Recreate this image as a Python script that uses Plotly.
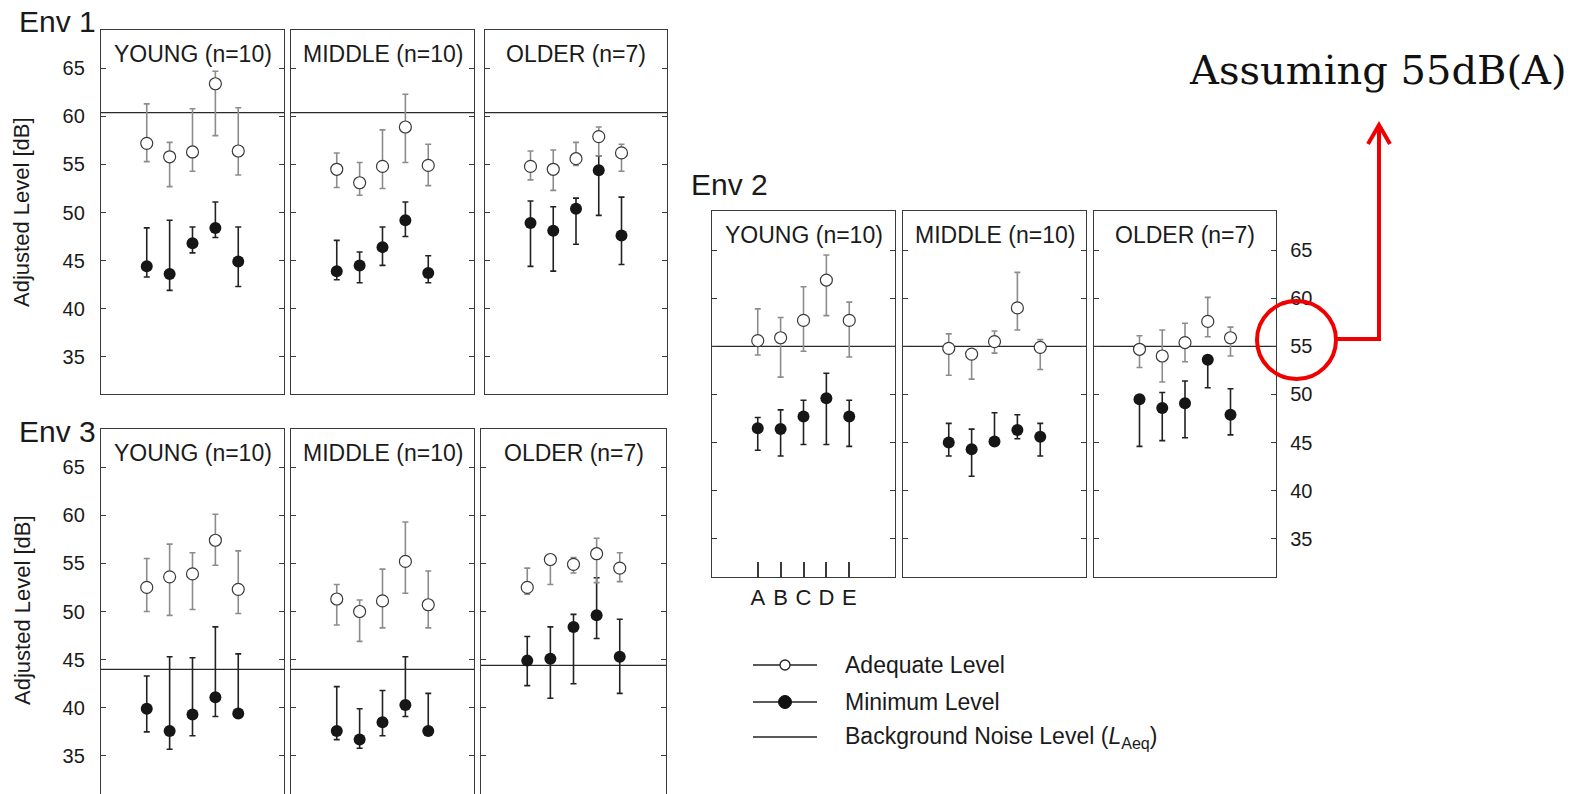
import plotly.graph_objects as go

# ---------------- data ----------------
letters = ["A", "B", "C", "D", "E"]
groups = ["YOUNG (n=10)", "MIDDLE (n=10)", "OLDER (n=7)"]
env_names = ["Env 1", "Env 2", "Env 3"]
y_ticks = [35, 40, 45, 50, 55, 60, 65]

# rows: YOUNG, MIDDLE, OLDER ; columns: A..E
env1_adq = [[57.2, 55.8, 56.3, 63.4, 56.4], [54.5, 53.1, 54.8, 58.9, 54.9], [54.8, 54.5, 55.6, 57.9, 56.2]]
env1_adq_hi = [[61.3, 57.3, 60.8, 64.7, 60.9], [56.2, 55.2, 58.6, 62.3, 57.1], [56.4, 56.5, 57.3, 58.9, 57.1]]
env1_adq_lo = [[55.3, 52.7, 54.3, 58.0, 53.9], [52.6, 51.8, 52.5, 55.2, 52.8], [53.4, 52.3, 54.9, 55.9, 54.3]]
env1_min = [[44.4, 43.6, 46.8, 48.4, 44.9], [43.9, 44.5, 46.4, 49.2, 43.7], [48.9, 48.1, 50.4, 54.4, 47.6]]
env1_min_hi = [[48.4, 49.2, 48.5, 51.1, 48.5], [47.1, 45.9, 48.5, 51.1, 45.5], [51.2, 50.6, 51.5, 55.9, 51.6]]
env1_min_lo = [[43.3, 41.9, 45.8, 47.4, 42.3], [43.0, 42.7, 44.5, 47.5, 42.7], [44.4, 43.9, 46.7, 49.7, 44.6]]
env1_bg = [60.4, 60.4, 60.4]

env2_adq = [[55.6, 55.9, 57.7, 61.9, 57.7], [54.8, 54.2, 55.5, 59.0, 54.9], [54.7, 54.0, 55.4, 57.6, 55.9]]
env2_adq_hi = [[58.9, 58.0, 61.2, 64.5, 59.6], [56.3, 54.6, 56.6, 62.7, 55.7], [56.1, 56.7, 57.4, 60.1, 57.0]]
env2_adq_lo = [[54.1, 51.8, 54.5, 58.2, 53.9], [52.0, 51.6, 54.3, 56.7, 52.6], [52.8, 51.3, 53.4, 56.0, 54.0]]
env2_min = [[46.5, 46.4, 47.7, 49.6, 47.7], [45.0, 44.3, 45.1, 46.3, 45.6], [49.5, 48.6, 49.1, 53.6, 47.9]]
env2_min_hi = [[47.6, 48.4, 49.4, 52.2, 49.4], [47.0, 46.4, 48.1, 47.9, 47.0], [49.5, 50.2, 51.4, 53.6, 50.6]]
env2_min_lo = [[44.2, 43.6, 44.8, 44.8, 44.6], [43.6, 41.5, 45.0, 45.4, 43.6], [44.6, 45.2, 45.5, 50.7, 45.8]]
env2_bg = [55.0, 55.0, 55.0]

env3_adq = [[52.5, 53.6, 53.9, 57.4, 52.3], [51.3, 50.0, 51.1, 55.2, 50.7], [52.5, 55.4, 54.9, 56.0, 54.5]]
env3_adq_hi = [[55.5, 57.0, 56.1, 60.1, 56.3], [52.8, 51.2, 54.4, 59.3, 54.2], [54.5, 55.9, 55.6, 57.6, 56.1]]
env3_adq_lo = [[50.0, 49.6, 50.2, 54.8, 49.8], [48.6, 46.9, 48.3, 51.9, 48.3], [51.8, 52.8, 54.0, 53.0, 53.1]]
env3_min = [[39.9, 37.6, 39.3, 41.1, 39.4], [37.6, 36.7, 38.5, 40.3, 37.6], [44.9, 45.1, 48.4, 49.6, 45.3]]
env3_min_hi = [[43.3, 45.3, 45.2, 48.4, 45.6], [42.2, 39.9, 41.8, 45.3, 41.5], [47.4, 48.4, 49.7, 53.5, 49.2]]
env3_min_lo = [[37.5, 35.7, 37.1, 39.1, 39.1], [36.7, 35.8, 37.1, 39.1, 37.4], [42.3, 41.0, 42.5, 47.2, 41.5]]
env3_bg = [44.0, 44.0, 44.4]

annotation_text = "Assuming 55dB(A)"
legend_labels = ["Adequate Level", "Minimum Level", "Background Noise Level (<i>L</i><sub>Aeq</sub>)"]

# ---------------- layout geometry (pixels) ----------------
W, H = 1583, 794
def px(x):
    return x / W
def py(y):
    return 1 - y / H

FONT = "Liberation Sans, Arial, Helvetica, sans-serif"
TXT = "#1a1a1a"
AX = "#3a3a3a"

envs = [
    dict(adq=env1_adq, adq_hi=env1_adq_hi, adq_lo=env1_adq_lo, mn=env1_min, mn_hi=env1_min_hi, mn_lo=env1_min_lo, bg=env1_bg,
         ytop=30, ybot=394, xs=[(101, 284), (291, 474), (485, 667)], yr=[31.12, 68.99], label_xy=(19, 21), ylab_y=212),
    dict(adq=env2_adq, adq_hi=env2_adq_hi, adq_lo=env2_adq_lo, mn=env2_min, mn_hi=env2_min_hi, mn_lo=env2_min_lo, bg=env2_bg,
         ytop=211, ybot=577, xs=[(712, 895), (903, 1086), (1094, 1276)], yr=[31.02, 69.08], label_xy=(691, 185), ylab_y=None),
    dict(adq=env3_adq, adq_hi=env3_adq_hi, adq_lo=env3_adq_lo, mn=env3_min, mn_hi=env3_min_hi, mn_lo=env3_min_lo, bg=env3_bg,
         ytop=429, ybot=794, xs=[(101, 284), (291, 474), (481, 666)], yr=[31.05, 68.95], label_xy=(19, 431), ylab_y=610),
]

fig = go.Figure()
layout = dict(
    width=W, height=H, margin=dict(l=0, r=0, t=0, b=0),
    paper_bgcolor="white", plot_bgcolor="white", showlegend=False,
    font=dict(family=FONT, color=TXT),
)
annotations = []
shapes = []

for ei, e in enumerate(envs):
    for gi in range(3):
        k = ei * 3 + gi + 1
        xa = "x" if k == 1 else f"x{k}"
        ya = "y" if k == 1 else f"y{k}"
        xkey = "xaxis" if k == 1 else f"xaxis{k}"
        ykey = "yaxis" if k == 1 else f"yaxis{k}"
        x0, x1 = e["xs"][gi]

        adq = e["adq"][gi]; hi = e["adq_hi"][gi]; lo = e["adq_lo"][gi]
        mn = e["mn"][gi]; mhi = e["mn_hi"][gi]; mlo = e["mn_lo"][gi]

        fig.add_trace(go.Scatter(
            x=letters, y=mn, mode="markers", xaxis=xa, yaxis=ya,
            marker=dict(symbol="circle", size=12, color="#161616", line=dict(width=0)),
            error_y=dict(type="data", symmetric=False,
                         array=[h - m for h, m in zip(mhi, mn)],
                         arrayminus=[m - l for m, l in zip(mn, mlo)],
                         color="#222222", thickness=1.6, width=3),
            name="Minimum Level"))
        fig.add_trace(go.Scatter(
            x=letters, y=adq, mode="markers", xaxis=xa, yaxis=ya,
            marker=dict(symbol="circle", size=12, color="white", line=dict(width=1.2, color="#3a3a3a")),
            error_y=dict(type="data", symmetric=False,
                         array=[h - m for h, m in zip(hi, adq)],
                         arrayminus=[m - l for m, l in zip(adq, lo)],
                         color="#8c8c8c", thickness=1.6, width=3),
            name="Adequate Level"))

        is_env2_young = (ei == 1 and gi == 0)
        xaxis = dict(domain=[px(x0), px(x1)], anchor=ya, type="category",
                     categoryorder="array", categoryarray=letters,
                     range=[-2.0, 6.0], showgrid=False, zeroline=False,
                     showline=True, linecolor=AX, linewidth=1.4,
                     mirror=(ei != 2), fixedrange=True)
        if ei == 2:
            xaxis.update(side="top", showticklabels=False, ticks="")
        elif is_env2_young:
            xaxis.update(ticks="inside", ticklen=15, tickwidth=1.5, tickcolor=AX,
                         tickmode="array", tickvals=letters, ticktext=letters,
                         showticklabels=True, tickfont=dict(size=22, family=FONT, color=TXT))
        else:
            xaxis.update(ticks="", showticklabels=False)
        layout[xkey] = xaxis

        show_y = (gi == 0 and ei != 1) or (ei == 1 and gi == 2)
        yaxis = dict(domain=[py(e["ybot"]), py(e["ytop"])], anchor=xa,
                     range=e["yr"], tickvals=y_ticks, showgrid=False, zeroline=False,
                     showline=True, linecolor=AX, linewidth=1.4, mirror="ticks",
                     ticks="inside", ticklen=5, tickwidth=1.3, tickcolor=AX,
                     showticklabels=show_y, tickfont=dict(size=20, family=FONT, color=TXT),
                     fixedrange=True)
        if ei == 1 and gi == 2:
            yaxis.update(side="right", ticklabelstandoff=9)
        elif show_y:
            yaxis.update(ticklabelstandoff=11)
        layout[ykey] = yaxis

        # background noise level line
        shapes.append(dict(type="line", xref=f"{xa} domain", yref=ya, x0=0, x1=1,
                           y0=e["bg"][gi], y1=e["bg"][gi], layer="below",
                           line=dict(color="#2a2a2a", width=1.3)))

        # panel title
        annotations.append(dict(text=groups[gi], xref="paper", yref="paper",
                                x=px((x0 + x1) / 2), y=py(e["ytop"] + 24),
                                xanchor="center", yanchor="middle", showarrow=False,
                                font=dict(size=23, family=FONT, color=TXT)))

    lx, ly = e["label_xy"]
    annotations.append(dict(text=env_names[ei], xref="paper", yref="paper",
                            x=px(lx - 2), y=py(ly), xanchor="left", yanchor="middle",
                            showarrow=False, font=dict(size=30, family=FONT, color=TXT)))
    if e["ylab_y"] is not None:
        annotations.append(dict(text="Adjusted Level [dB]", xref="paper", yref="paper",
                                x=px(22), y=py(e["ylab_y"]),
                                xanchor="center", yanchor="middle", textangle=-90,
                                showarrow=False, font=dict(size=22, family=FONT, color=TXT)))

# ---------------- legend (drawn manually) ----------------
leg_y = [665, 702, 737]
for i, lab in enumerate(legend_labels):
    shapes.append(dict(type="line", xref="paper", yref="paper",
                       x0=px(753), x1=px(817), y0=py(leg_y[i]), y1=py(leg_y[i]),
                       line=dict(color="#222", width=1.5)))
    annotations.append(dict(text=lab, xref="paper", yref="paper", x=px(843), y=py(leg_y[i]),
                            xanchor="left", yanchor="middle", showarrow=False,
                            font=dict(size=23, family=FONT, color=TXT)))
r_open, r_fill = 5, 6.5
shapes.append(dict(type="circle", xref="paper", yref="paper",
                   x0=px(785 - r_open), x1=px(785 + r_open), y0=py(leg_y[0] + r_open), y1=py(leg_y[0] - r_open),
                   fillcolor="white", line=dict(color="#222", width=1.3)))
shapes.append(dict(type="circle", xref="paper", yref="paper",
                   x0=px(785 - r_fill), x1=px(785 + r_fill), y0=py(leg_y[1] + r_fill), y1=py(leg_y[1] - r_fill),
                   fillcolor="#111", line=dict(color="#111", width=1)))

# ---------------- red callout ----------------
RED = "rgb(240,0,0)"
shapes.append(dict(type="circle", xref="paper", yref="paper",
                   x0=px(1257), x1=px(1336), y0=py(379), y1=py(301),
                   line=dict(color=RED, width=4)))
def pp(x, y):
    return f"{px(x):.5f},{py(y):.5f}"
shapes.append(dict(type="path", xref="paper", yref="paper",
                   path=f"M {pp(1336, 339)} L {pp(1379, 339)} L {pp(1379, 126)}",
                   line=dict(color=RED, width=4)))
shapes.append(dict(type="path", xref="paper", yref="paper",
                   path=f"M {pp(1368, 144)} L {pp(1379, 125)} L {pp(1390, 144)}",
                   line=dict(color=RED, width=4)))
annotations.append(dict(text=annotation_text, xref="paper", yref="paper",
                        x=px(1187), y=py(70), xanchor="left", yanchor="middle",
                        showarrow=False, font=dict(size=40, family="DejaVu Serif, Liberation Serif, serif", color="#111")))

layout["annotations"] = annotations
layout["shapes"] = shapes
fig.update_layout(**layout)
fig.write_html("out.html")
